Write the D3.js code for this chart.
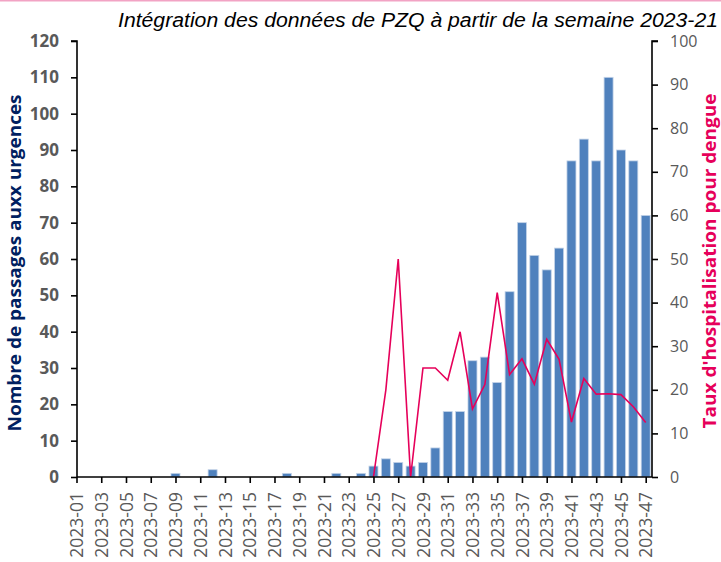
<!DOCTYPE html>
<html>
<head>
<meta charset="utf-8">
<script src="https://cdn.jsdelivr.net/npm/d3@7"></script>
<style>
  html, body { margin: 0; padding: 0; background: #fff; }
  svg { display: block; }
</style>
</head>
<body>
<svg id="chart"></svg>
<script>
// Semaines ISO 2023-01 .. 2023-47
const weeks = [
  "2023-01","2023-02","2023-03","2023-04","2023-05","2023-06","2023-07","2023-08","2023-09","2023-10",
  "2023-11","2023-12","2023-13","2023-14","2023-15","2023-16","2023-17","2023-18","2023-19","2023-20",
  "2023-21","2023-22","2023-23","2023-24","2023-25","2023-26","2023-27","2023-28","2023-29","2023-30",
  "2023-31","2023-32","2023-33","2023-34","2023-35","2023-36","2023-37","2023-38","2023-39","2023-40",
  "2023-41","2023-42","2023-43","2023-44","2023-45","2023-46","2023-47"
];

// Nombre de passages aux urgences (barres, axe gauche)
const passages = [
  0, 0, 0, 0, 0, 0, 0, 0, 1, 0,
  0, 2, 0, 0, 0, 0, 0, 1, 0, 0,
  0, 1, 0, 1, 3, 5, 4, 3, 4, 8,
  18, 18, 32, 33, 26, 51, 70, 61, 57, 63,
  87, 93, 87, 110, 90, 87, 72
];

// Taux d'hospitalisation pour dengue en % (ligne, axe droit), à partir de 2023-25
const tauxHosp = [
  null, null, null, null, null, null, null, null, null, null,
  null, null, null, null, null, null, null, null, null, null,
  null, null, null, null, 0, 20, 50, 0, 25, 25,
  22.2, 33.3, 15.6, 21.2, 42.3, 23.5, 27.1, 21.3, 31.6, 27,
  12.6, 22.6, 19, 19.1, 18.9, 16.1, 12.5
];

const leftTicks = [0, 10, 20, 30, 40, 50, 60, 70, 80, 90, 100, 110, 120];
const rightTicks = [0, 10, 20, 30, 40, 50, 60, 70, 80, 90, 100];
const xTickLabels = weeks.filter((w, i) => i % 2 === 0);

const titleText = "Intégration des données de PZQ à partir de la semaine 2023-21";
const leftTitle = "Nombre de passages  auxx urgences";
const rightTitle = "Taux d'hospitalisation  pour dengue";

const width = 721;
const height = 562;
const plot = { left: 77, right: 652, top: 41, bottom: 477 };

const barColor = "#4f81bd";
const lineColor = "#e6005a";
const navy = "#002060";
const grey = "#595959";

const svg = d3.select("#chart")
  .attr("width", width)
  .attr("height", height);

// liseré rose en haut
svg.append("line")
  .attr("x1", 0).attr("x2", width)
  .attr("y1", 0.5).attr("y2", 0.5)
  .style("stroke", "#f2a3c4")
  .style("stroke-width", 2);

const x = d3.scalePoint()
  .domain(weeks)
  .range([76.5, 645.7]);

const yLeft = d3.scaleLinear()
  .domain([0, 120])
  .range([plot.bottom, plot.top]);

const yRight = d3.scaleLinear()
  .domain([0, 100])
  .range([plot.bottom, plot.top]);

const barWidth = 9;

// Barres
svg.append("g")
  .selectAll("rect")
  .data(weeks.map((w, i) => ({ week: w, value: passages[i] })).filter(d => d.value > 0))
  .enter()
  .append("rect")
  .attr("x", d => x(d.week) - barWidth / 2)
  .attr("y", d => yLeft(d.value))
  .attr("width", barWidth)
  .attr("height", d => yLeft(0) - yLeft(d.value))
  .style("fill", barColor)
  .style("stroke", "#c3d3e8")
  .style("stroke-width", 0.8);

// Ligne du taux d'hospitalisation
const line = d3.line()
  .defined(d => d.value !== null)
  .x(d => x(d.week))
  .y(d => yRight(d.value));

svg.append("path")
  .datum(weeks.map((w, i) => ({ week: w, value: tauxHosp[i] })))
  .attr("d", line)
  .style("fill", "none")
  .style("stroke", lineColor)
  .style("stroke-width", 1.6)
  .style("stroke-linejoin", "miter");

// Axe gauche
const axisLeft = svg.append("g")
  .attr("transform", `translate(${plot.left},0)`)
  .call(d3.axisLeft(yLeft).tickValues(leftTicks).tickSize(6).tickPadding(12));

axisLeft.select(".domain").attr("d", `M-6,${plot.top}H0V${plot.bottom}`);
axisLeft.selectAll("text")
  .style("font-family", "'Open Sans', sans-serif")
  .style("font-weight", "bold")
  .style("font-size", "17px")
  .style("fill", grey);

// Axe droit
const axisRight = svg.append("g")
  .attr("transform", `translate(${plot.right},0)`)
  .call(d3.axisRight(yRight).tickValues(rightTicks).tickSize(6).tickPadding(12));

axisRight.select(".domain").attr("d", `M6,${plot.top}H0V${plot.bottom}`);
axisRight.selectAll("text")
  .style("font-family", "'Open Sans', sans-serif")
  .style("font-size", "16px")
  .style("fill", grey);

// Axe des semaines
const axisBottom = svg.append("g")
  .attr("transform", `translate(0,${plot.bottom})`)
  .call(d3.axisBottom(x).tickValues(xTickLabels).tickSize(6).tickPadding(10));

axisBottom.select(".domain").attr("d", `M${plot.left},0H${plot.right}`);
axisBottom.selectAll("text")
  .attr("transform", "rotate(-90)")
  .attr("x", -15)
  .attr("y", 0)
  .attr("dy", "0.35em")
  .style("text-anchor", "end")
  .style("font-family", "'Open Sans', sans-serif")
  .style("font-size", "17.5px")
  .style("fill", grey);

svg.selectAll(".domain, .tick line")
  .style("stroke", "#000")
  .style("stroke-width", 1.6);

// Titre
svg.append("text")
  .attr("x", 718)
  .attr("y", 27)
  .attr("textLength", 600)
  .attr("lengthAdjust", "spacingAndGlyphs")
  .style("text-anchor", "end")
  .style("font-family", "'Liberation Sans', Arial, sans-serif")
  .style("font-style", "italic")
  .style("font-size", "19.5px")
  .style("fill", "#000")
  .text(titleText);

// Titres des axes
svg.append("text")
  .attr("transform", "translate(21,263) rotate(-90)")
  .attr("textLength", 337)
  .attr("lengthAdjust", "spacingAndGlyphs")
  .style("text-anchor", "middle")
  .style("font-family", "'Open Sans', sans-serif")
  .style("font-weight", "bold")
  .style("font-size", "17px")
  .style("fill", navy)
  .text(leftTitle);

svg.append("text")
  .attr("transform", "translate(716,261) rotate(-90)")
  .attr("textLength", 335)
  .attr("lengthAdjust", "spacingAndGlyphs")
  .style("text-anchor", "middle")
  .style("font-family", "'Open Sans', sans-serif")
  .style("font-weight", "bold")
  .style("font-size", "17px")
  .style("fill", lineColor)
  .text(rightTitle);
</script>
</body>
</html>
